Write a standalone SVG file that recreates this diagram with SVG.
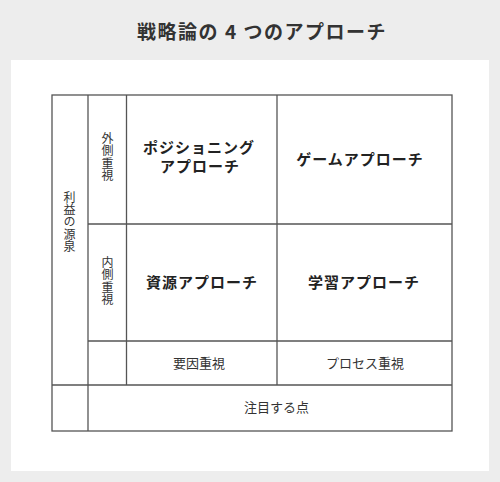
<svg xmlns="http://www.w3.org/2000/svg" width="500" height="482" viewBox="0 0 500 482">
<style>
.t{font-family:"Noto Sans CJK JP","Noto Sans",sans-serif;fill:#333;}
.b{font-weight:700;font-size:15px;letter-spacing:1px;text-anchor:middle;fill:#222;}
.r{font-size:13px;text-anchor:middle;}
.v{font-size:12px;letter-spacing:0.4px;writing-mode:vertical-rl;text-anchor:start;}
.ln{stroke:#555;stroke-width:1.3;fill:none;}
</style>
<rect x="0" y="0" width="500" height="482" fill="#ededed"/>
<rect x="11" y="60" width="478" height="411" fill="#ffffff"/>
<g id="title"><text class="t" x="262" y="39" font-size="19" font-weight="700" text-anchor="middle" letter-spacing="1.5" style="font-family:'Noto Sans CJK JP',serif">戦略論の 4 つのアプローチ</text></g>
<g id="connectors">
<rect class="ln" x="52" y="95" width="400" height="336"/>
<line class="ln" x1="88" y1="95" x2="88" y2="431"/>
<line class="ln" x1="126.5" y1="95" x2="126.5" y2="385"/>
<line class="ln" x1="277" y1="95" x2="277" y2="385"/>
<line class="ln" x1="88" y1="224" x2="452" y2="224"/>
<line class="ln" x1="88" y1="341" x2="452" y2="341"/>
<line class="ln" x1="52" y1="385" x2="452" y2="385"/>
</g>
<g id="positioning"><text class="t b" x="199"><tspan x="199" y="153">ポジショニング</tspan><tspan x="200" y="172">アプローチ</tspan></text></g>
<g id="game"><text class="t b" x="360" y="165">ゲームアプローチ</text></g>
<g id="resource"><text class="t b" x="202" y="288">資源アプローチ</text></g>
<g id="learning"><text class="t b" x="364" y="288">学習アプローチ</text></g>
<g id="external"><text class="t v" x="107.5" y="132.5">外側重視</text></g>
<g id="internal"><text class="t v" x="107.5" y="256.5">内側重視</text></g>
<g id="profit"><text class="t v" x="69.5" y="191">利益の源泉</text></g>
<g id="factor"><text class="t r" x="199" y="368">要因重視</text></g>
<g id="process"><text class="t r" x="365" y="368">プロセス重視</text></g>
<g id="focus"><text class="t r" x="276.5" y="412">注目する点</text></g>
</svg>
